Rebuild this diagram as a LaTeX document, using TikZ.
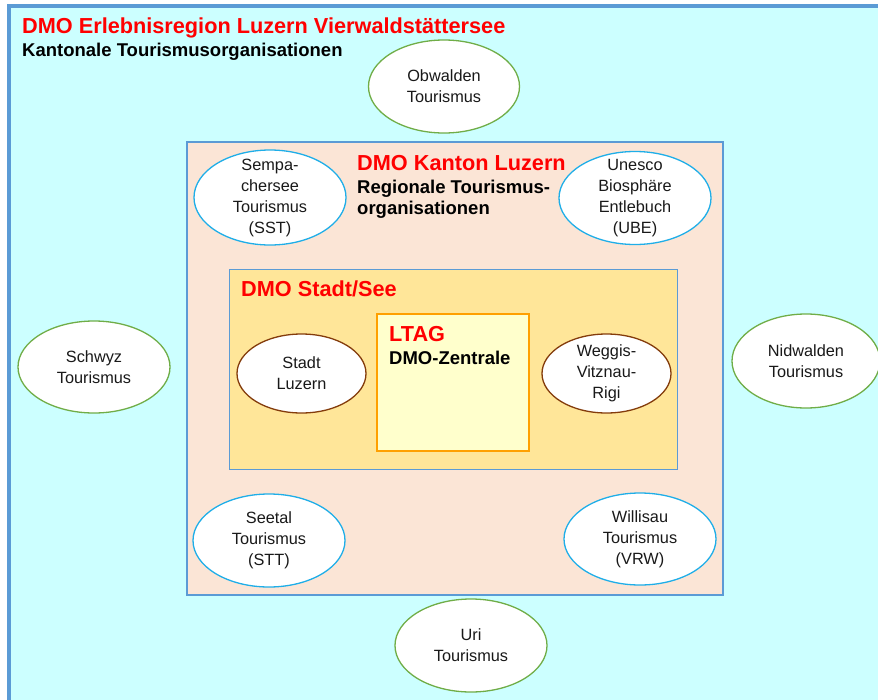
\documentclass[tikz,border=0pt]{standalone}
\usepackage{fontspec}
\setmainfont{Liberation Sans}
\usetikzlibrary{shapes.geometric}
\definecolor{outerfill}{HTML}{CCFFFF}
\definecolor{frameblue}{HTML}{5B9BD5}
\definecolor{kantonfill}{HTML}{FBE5D6}
\definecolor{stadtfill}{HTML}{FFE699}
\definecolor{ltagfill}{HTML}{FFFFCC}
\definecolor{ltagdraw}{HTML}{FFA000}
\definecolor{ellgreen}{HTML}{70AD47}
\definecolor{ellblue}{HTML}{1FAEE8}
\definecolor{ellbrown}{HTML}{843C0C}
\definecolor{titlered}{HTML}{FF0000}
\tikzset{
  bigtitle/.style={anchor=base west, inner sep=0pt, text=titlered, font=\fontsize{21.7}{25}\selectfont\bfseries},
  subtitle/.style={anchor=base west, inner sep=0pt, text=black, font=\fontsize{18.5}{22}\selectfont\bfseries},
  orgell/.style={ellipse, draw, fill=white, line width=1.3pt, inner sep=0pt},
  elltext/.style={align=center, inner sep=0pt, text=black!90, font=\fontsize{16.3}{21}\selectfont},
}
\begin{document}
\begin{tikzpicture}[x=1pt,y=-1pt]
\useasboundingbox (0,0) rectangle (878,699);
\fill[white] (0,0) rectangle (878,699);
% outer region
\draw[line width=4pt, draw=frameblue, fill=outerfill] (8.5,6) rectangle (910,730);
\node[bigtitle] (t1) at (22,33) {DMO Erlebnisregion Luzern Vierwaldstättersee};
\node[subtitle] (t2) at (22,56) {Kantonale Tourismusorganisationen};
% Kanton box
\draw[line width=2pt, draw=frameblue, fill=kantonfill] (187,142) rectangle (723,595);
\node[bigtitle] (k1) at (357,170) {DMO Kanton Luzern};
\node[subtitle] (k2) at (357,193) {Regionale Tourismus-};
\node[subtitle] (k3) at (357,214) {organisationen};
% Stadt box
\draw[line width=1pt, draw=frameblue, fill=stadtfill] (229,269) rectangle (677,469);
\node[bigtitle] (s1) at (241,296) {DMO Stadt/See};
% LTAG box
\draw[line width=1.5pt, draw=ltagdraw, fill=ltagfill] (377,314) rectangle (529,451);
\node[bigtitle] (l1) at (389,341) {LTAG};
\node[subtitle] (l2) at (389,364) {DMO-Zentrale};
% outer ellipses (green)
\node[orgell, draw=ellgreen, minimum width=151pt, minimum height=93pt] (obw) at (444,86.5) {};
\node[elltext] at (obw) {Obwalden\\Tourismus};
\node[orgell, draw=ellgreen, minimum width=152pt, minimum height=92pt] (sch) at (94,367) {};
\node[elltext] at (sch) {Schwyz\\Tourismus};
\node[orgell, draw=ellgreen, minimum width=148pt, minimum height=94pt] (nid) at (806,361) {};
\node[elltext] at (nid) {Nidwalden\\Tourismus};
\node[orgell, draw=ellgreen, minimum width=152pt, minimum height=93pt] (uri) at (471,645.5) {};
\node[elltext] at (uri) {Uri\\Tourismus};
% Kanton ellipses (blue)
\node[orgell, draw=ellblue, minimum width=152pt, minimum height=95pt] (sst) at (270,197.5) {};
\node[elltext] at (sst) {Sempa-\\chersee\\Tourismus\\(SST)};
\node[orgell, draw=ellblue, minimum width=152pt, minimum height=93pt] (ube) at (635,198) {};
\node[elltext] at (ube) {Unesco\\Biosphäre\\Entlebuch\\(UBE)};
\node[orgell, draw=ellblue, minimum width=152pt, minimum height=93pt] (stt) at (269,540.5) {};
\node[elltext] at (stt) {Seetal\\Tourismus\\(STT)};
\node[orgell, draw=ellblue, minimum width=152pt, minimum height=92pt] (vrw) at (640,539) {};
\node[elltext] at (vrw) {Willisau\\Tourismus\\(VRW)};
% Stadt ellipses (brown)
\node[orgell, draw=ellbrown, minimum width=129pt, minimum height=79pt] (slu) at (301.5,373.5) {};
\node[elltext] at (slu) {Stadt\\Luzern};
\node[orgell, draw=ellbrown, minimum width=129pt, minimum height=79pt] (wvr) at (606.5,373.5) {};
\node[elltext] at (wvr) {Weggis-\\Vitznau-\\Rigi};
\end{tikzpicture}
\end{document}
